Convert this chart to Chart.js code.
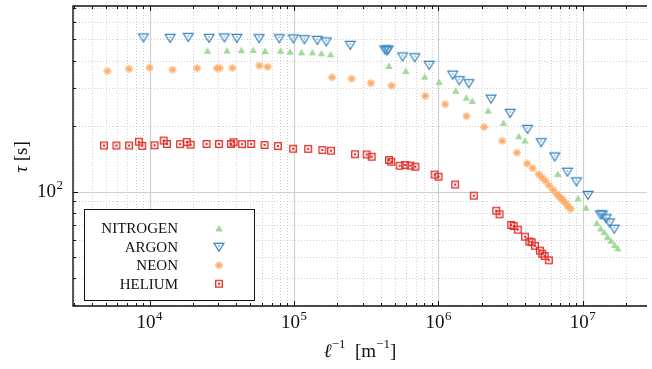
<!DOCTYPE html>
<html>
<head>
<meta charset="utf-8">
<script src="https://cdn.jsdelivr.net/npm/chart.js@4.4.0/dist/chart.umd.min.js"></script>
<style>
  html, body { margin: 0; padding: 0; background: #fff; }
  #wrap { width: 652px; height: 369px; position: relative; }
</style>
</head>
<body>
<div id="wrap"><canvas id="tau-chart"></canvas></div>
<script>
// inverse length (1/m) and relaxation time (s) for each gas
const nitrogenL = [25200, 34400, 43200, 52200, 63100, 80700, 94000, 112800, 134200, 154700,
  179200, 454500, 594500, 802800, 1.011e6, 1.316e6, 1.559e6, 1.714e6, 2.207e6, 2.82e6,
  3.602e6, 3.98e6, 6.705e6, 9.27e6, 1.05e7, 1.25e7, 1.327e7, 1.405e7, 1.483e7, 1.566e7,
  1.659e7, 1.744e7];
const nitrogenTau = [443.6, 445, 446.4, 447.3, 442.6, 444, 439.3, 436.5, 436.5, 431.9,
  427.4, 377.6, 358.1, 337.2, 318.7, 290.6, 270, 260.7, 235.3, 207,
  179.6, 171.6, 120.3, 93, 84.2, 71.6, 67.6, 65, 61.9, 59.4,
  56.8, 54.8];

const argonL = [9070, 13890, 18550, 25850, 32980, 40240, 57330, 79020, 99060, 118200,
  145200, 167400, 245400, 425300, 438900, 449500, 565200, 685500, 863500, 1.256e6,
  1.396e6, 1.624e6, 2.315e6, 3.14e6, 4.14e6, 5.15e6, 6.39e6, 7.83e6, 9.03e6, 1.086e7,
  1.323e7, 1.365e7, 1.45e7, 1.53e7, 1.651e7];
const argonTau = [510.5, 507.8, 513, 507.8, 510.5, 507.8, 506.3, 506.3, 505, 501,
  497.3, 489.4, 471.7, 449.7, 445, 449.7, 417.5, 414, 381.5, 344.4,
  324.6, 314.5, 267.1, 229.6, 193.8, 168.4, 144.8, 123.2, 111.2, 96.4,
  78.4, 78.4, 75.3, 72, 67.4];

const neonL = [5110, 7210, 10000, 14410, 21350, 29340, 30620, 37480, 57610, 65680,
  183500, 250500, 340900, 473700, 810400, 1.112e6, 1.566e6, 2.072e6, 2.767e6, 3.491e6,
  4.108e6, 4.495e6, 4.942e6, 5.206e6, 5.503e6, 5.842e6, 6.223e6, 6.598e6, 6.865e6, 7.085e6,
  7.312e6, 7.607e6, 7.914e6, 8.233e6];
const neonTau = [358, 366, 371, 363, 369, 369, 369, 370, 379, 374,
  335, 330, 315, 307, 275, 252, 222, 198, 171, 151,
  134.5, 128, 120, 116, 112, 106.6, 101.6, 97.4, 94.8, 92.9,
  91, 88.3, 85.3, 83.1];

const heliumL = [4835, 5900, 7210, 8445, 8897, 10830, 12530, 13190, 16270, 18120,
  19270, 24810, 30280, 36600, 38190, 43690, 50600, 62540, 77420, 98590,
  125400, 157200, 180600, 264800, 318600, 345200, 454500, 471400, 539000, 588000,
  639500, 692100, 941700, 1.002e6, 1.306e6, 1.758e6, 2.516e6, 2.651e6, 3.19e6, 3.319e6,
  3.546e6, 3.98e6, 4.26e6, 4.424e6, 4.661e6, 5.045e6, 5.231e6, 5.442e6, 5.815e6];
const heliumTau = [162.7, 162.7, 162.7, 169.4, 162.2, 163.1, 171.6, 165.4, 165.1, 168.9,
  164.2, 165.4, 165.4, 165.4, 168.4, 165.1, 165.4, 163.6, 161.9, 157.3,
  157.1, 155.1, 154.0, 148.3, 148.0, 144.5, 139.6, 137.1, 131.4, 132.4,
  131.7, 130.0, 119.7, 117.0, 107.7, 95.7, 81.6, 78.6, 70.2, 69.4,
  66.8, 62.0, 58.9, 58.5, 56.3, 53.5, 51.8, 50.5, 48.3];

const seriesNames = ['NITROGEN', 'ARGON', 'NEON', 'HELIUM'];
const xDecades = [4, 5, 6, 7];
const yDecades = [2];

const SERIF = '"Liberation Serif", "DejaVu Serif", serif';

// marker images
function makeMarker(kind) {
  const c = document.createElement('canvas');
  c.width = 16; c.height = 16;
  const g = c.getContext('2d');
  g.translate(8, 8);
  if (kind === 'triUp') {
    g.fillStyle = '#a1d99b';
    g.beginPath();
    g.moveTo(0, -3.4); g.lineTo(3.7, 3); g.lineTo(-3.7, 3); g.closePath();
    g.fill();
  } else if (kind === 'triDown') {
    g.strokeStyle = '#3182bd';
    g.lineWidth = 1.1;
    g.beginPath();
    g.moveTo(-5, -3.6); g.lineTo(5, -3.6); g.lineTo(0, 4.4); g.closePath();
    g.stroke();
    g.fillStyle = '#3182bd';
    g.beginPath();
    g.moveTo(-1, -1.4); g.lineTo(1, -1.4); g.lineTo(0, 0.2); g.closePath();
    g.fill();
  } else if (kind === 'star') {
    g.strokeStyle = '#fdae6b';
    g.fillStyle = '#fdae6b';
    g.lineWidth = 1.3;
    g.beginPath();
    for (let i = 0; i < 4; i++) {
      const a = i * Math.PI / 4;
      g.moveTo(-4 * Math.cos(a), -4 * Math.sin(a));
      g.lineTo(4 * Math.cos(a), 4 * Math.sin(a));
    }
    g.stroke();
    g.beginPath(); g.arc(0, 0, 1.3, 0, Math.PI * 2); g.fill();
  } else {
    g.strokeStyle = '#de2d26';
    g.fillStyle = '#de2d26';
    g.lineWidth = 1.3;
    g.strokeRect(-3.3, -3.3, 6.6, 6.6);
    g.fillRect(-1, -1, 2, 2);
  }
  return c;
}

const markers = [makeMarker('triUp'), makeMarker('triDown'), makeMarker('star'), makeMarker('square')];

function toPoints(xs, ys) {
  return xs.map((x, i) => ({ x: x, y: ys[i] }));
}

// superscripted power of ten: "10" + exponent
function drawPow(ctx, exp, x, y, align) {
  ctx.font = '19px ' + SERIF;
  const base = '10';
  const wb = ctx.measureText(base).width;
  ctx.font = '13px ' + SERIF;
  const we = ctx.measureText(exp).width;
  const total = wb + we + 0.5;
  let start = align === 'center' ? x - total / 2 : x - total;
  ctx.textBaseline = 'middle';
  ctx.textAlign = 'left';
  ctx.font = '19px ' + SERIF;
  ctx.fillText(base, start, y);
  ctx.font = '13px ' + SERIF;
  ctx.fillText(exp, start + wb + 0.5, y - 6);
}

const axesPlugin = {
  id: 'axesPlugin',
  beforeDatasetsDraw(chart) {
    const ctx = chart.ctx;
    const area = chart.chartArea;
    const xs = chart.scales.x, ys = chart.scales.y;
    ctx.save();
    // vertical grid
    for (let e = 3; e <= 7; e++) {
      for (let m = 1; m <= 9; m++) {
        const v = m * Math.pow(10, e);
        if (v <= xs.min || v >= xs.max) continue;
        const px = Math.round(xs.getPixelForValue(v)) + 0.5;
        ctx.beginPath();
        if (m === 1) { ctx.setLineDash([]); ctx.strokeStyle = '#cfcfcf'; ctx.lineWidth = 1.2; }
        else { ctx.setLineDash([1, 2]); ctx.strokeStyle = '#c4c4c4'; ctx.lineWidth = 0.8; }
        ctx.moveTo(px, area.top); ctx.lineTo(px, area.bottom);
        ctx.stroke();
      }
    }
    // horizontal grid
    for (let e = 1; e <= 2; e++) {
      for (let m = 1; m <= 9; m++) {
        const v = m * Math.pow(10, e);
        if (v <= ys.min || v >= ys.max) continue;
        const py = Math.round(ys.getPixelForValue(v)) + 0.5;
        ctx.beginPath();
        if (m === 1) { ctx.setLineDash([]); ctx.strokeStyle = '#cfcfcf'; ctx.lineWidth = 1.2; }
        else { ctx.setLineDash([1, 2]); ctx.strokeStyle = '#c4c4c4'; ctx.lineWidth = 0.8; }
        ctx.moveTo(area.left, py); ctx.lineTo(area.right, py);
        ctx.stroke();
      }
    }
    ctx.restore();
  },
  afterDatasetsDraw(chart) {
    const ctx = chart.ctx;
    const area = chart.chartArea;
    const xs = chart.scales.x, ys = chart.scales.y;
    ctx.save();
    ctx.setLineDash([]);
    ctx.strokeStyle = '#111';
    ctx.lineWidth = 1;
    // inward tick marks
    ctx.beginPath();
    for (let e = 3; e <= 7; e++) {
      for (let m = 1; m <= 9; m++) {
        const v = m * Math.pow(10, e);
        if (v <= xs.min || v >= xs.max) continue;
        const px = Math.round(xs.getPixelForValue(v)) + 0.5;
        const len = m === 1 ? 5 : 3;
        ctx.moveTo(px, area.bottom); ctx.lineTo(px, area.bottom - len);
        ctx.moveTo(px, area.top); ctx.lineTo(px, area.top + len);
      }
    }
    for (let e = 1; e <= 2; e++) {
      for (let m = 1; m <= 9; m++) {
        const v = m * Math.pow(10, e);
        if (v <= ys.min || v >= ys.max) continue;
        const py = Math.round(ys.getPixelForValue(v)) + 0.5;
        const len = m === 1 ? 5 : 3;
        ctx.moveTo(area.left, py); ctx.lineTo(area.left + len, py);
      }
    }
    ctx.stroke();
    // frame: left, top, bottom
    ctx.lineWidth = 1.4;
    ctx.beginPath();
    ctx.moveTo(area.right, area.top); ctx.lineTo(area.left, area.top);
    ctx.lineTo(area.left, area.bottom); ctx.lineTo(area.right, area.bottom);
    ctx.stroke();

    // tick labels
    ctx.fillStyle = '#111';
    xDecades.forEach(d => {
      drawPow(ctx, String(d), xs.getPixelForValue(Math.pow(10, d)), area.bottom + 17, 'center');
    });
    yDecades.forEach(d => {
      drawPow(ctx, String(d), area.left - 10, ys.getPixelForValue(Math.pow(10, d)), 'right');
    });

    // x title: l^-1 [m^-1]
    ctx.textBaseline = 'middle';
    ctx.textAlign = 'left';
    const parts = [
      { t: 'ℓ', f: 'italic 19px ' + SERIF, dy: 0 },
      { t: '−1', f: '13px ' + SERIF, dy: -7 },
      { t: '  [m', f: '19px ' + SERIF, dy: 0 },
      { t: '−1', f: '13px ' + SERIF, dy: -7 },
      { t: ']', f: '19px ' + SERIF, dy: 0 }
    ];
    let tw = 0;
    parts.forEach(p => { ctx.font = p.f; p.w = ctx.measureText(p.t).width; tw += p.w; });
    let tx = (area.left + area.right) / 2 - tw / 2;
    parts.forEach(p => { ctx.font = p.f; ctx.fillText(p.t, tx, 352 + p.dy); tx += p.w; });

    // y title
    ctx.save();
    ctx.translate(22, (area.top + area.bottom) / 2 + 1);
    ctx.rotate(-Math.PI / 2);
    ctx.font = 'italic 19px ' + SERIF;
    const wt = ctx.measureText('τ').width;
    ctx.font = '19px ' + SERIF;
    const ws = ctx.measureText(' [s]').width;
    let sx = -(wt + ws) / 2;
    ctx.font = 'italic 19px ' + SERIF;
    ctx.fillText('τ', sx, 0);
    ctx.font = '19px ' + SERIF;
    ctx.fillText(' [s]', sx + wt, 0);
    ctx.restore();

    // legend box
    const lx = 84.5, ly = 209.5, lw = 170, lh = 91;
    ctx.fillStyle = '#fff';
    ctx.fillRect(lx, ly, lw, lh);
    ctx.lineWidth = 1;
    ctx.strokeStyle = '#111';
    ctx.strokeRect(lx, ly, lw, lh);
    ctx.fillStyle = '#111';
    ctx.font = '15px ' + SERIF;
    ctx.textAlign = 'right';
    ctx.textBaseline = 'middle';
    seriesNames.forEach((name, i) => {
      const ry = 228.5 + i * 18.4;
      ctx.fillText(name, 178, ry + 1);
      ctx.drawImage(markers[i], 219 - 8, ry - 8);
    });
    ctx.restore();
  }
};

const ctx = document.getElementById('tau-chart').getContext('2d');
new Chart(ctx, {
  type: 'scatter',
  data: {
    datasets: [
      { label: seriesNames[0], data: toPoints(nitrogenL, nitrogenTau), pointStyle: markers[0] },
      { label: seriesNames[1], data: toPoints(argonL, argonTau), pointStyle: markers[1] },
      { label: seriesNames[2], data: toPoints(neonL, neonTau), pointStyle: markers[2] },
      { label: seriesNames[3], data: toPoints(heliumL, heliumTau), pointStyle: markers[3] }
    ]
  },
  options: {
    responsive: true,
    maintainAspectRatio: false,
    animation: false,
    layout: { padding: { left: 73, top: 6, right: 0, bottom: 63 } },
    plugins: { legend: { display: false }, tooltip: { enabled: false } },
    scales: {
      x: { type: 'logarithmic', display: false, min: 2952, max: 2.781e7 },
      y: { type: 'logarithmic', display: false, min: 29.76, max: 712.8 }
    }
  },
  plugins: [axesPlugin]
});
</script>
</body>
</html>
